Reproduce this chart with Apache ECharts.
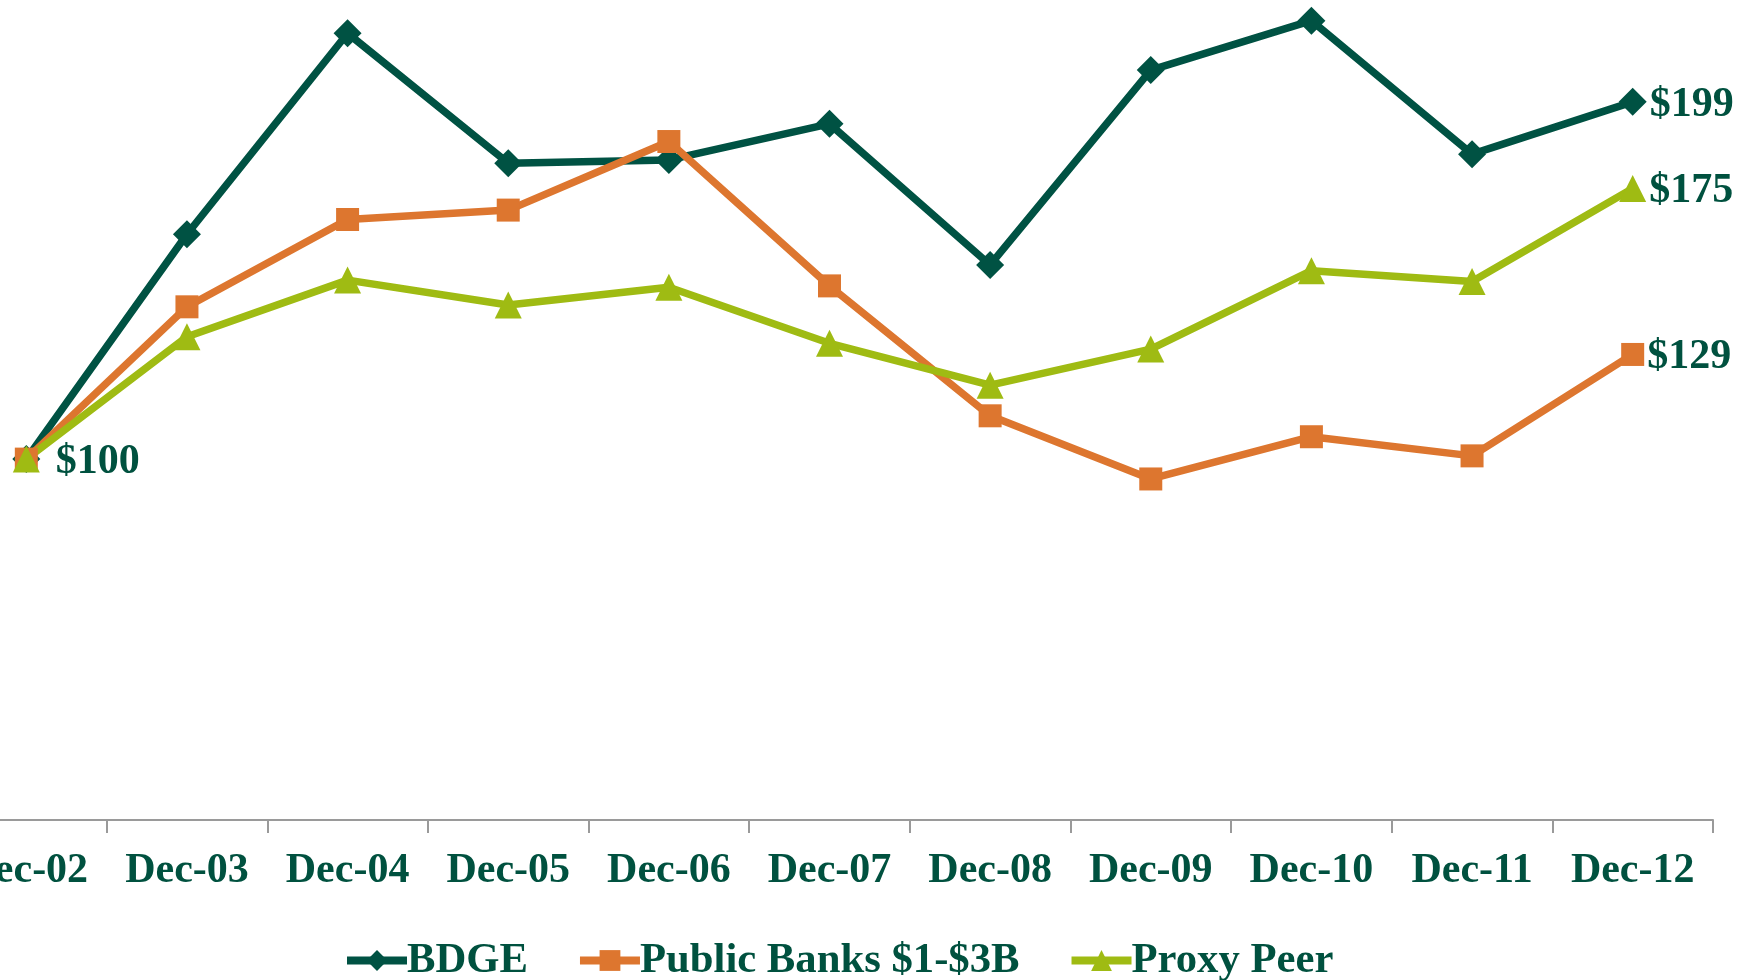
<!DOCTYPE html>
<html>
<head>
<meta charset="utf-8">
<title>Total Return Performance</title>
<script src="https://cdn.jsdelivr.net/npm/echarts@6/dist/echarts.min.js"></script>
<style>
  html, body { margin: 0; padding: 0; background: #ffffff; }
  #chart { width: 1752px; height: 980px; }
</style>
</head>
<body>
<div id="chart"></div>
<script>
// Year-end points, indexed to $100 at Dec-02
const categories = ['Dec-02', 'Dec-03', 'Dec-04', 'Dec-05', 'Dec-06', 'Dec-07',
                    'Dec-08', 'Dec-09', 'Dec-10', 'Dec-11', 'Dec-12'];
const bdge        = [100, 162.3, 218.0, 182.0, 182.9, 192.9, 153.8, 207.8, 221.5, 184.5, 199];
const publicBanks = [100, 142.2, 166.4, 169.0, 188.0, 148.0, 112.0,  94.5, 106.2, 100.9, 129];
const proxyPeer   = [100, 133.9, 149.6, 142.7, 147.6, 132.1, 120.5, 130.5, 152.2, 149.2, 175];
const seriesNames = ['BDGE', 'Public Banks $1-$3B', 'Proxy Peer'];

const TEXT_COLOR = '#00513f';
const FONT = "'Liberation Serif', 'Times New Roman', serif";
const LINE_WIDTH = 7.5;

// Value labels: shown on the final point of each line, plus the shared $100 start
function endLabel(offset) {
  return {
    show: true,
    position: 'right',
    distance: offset,
    offset: [0, 3],
    color: TEXT_COLOR,
    fontFamily: FONT,
    fontWeight: 'bold',
    fontSize: 42,
    formatter: p => '$' + Math.round(p.value)
  };
}

function withLabels(values, showFirst) {
  const last = values.length - 1;
  return values.map((v, i) => {
    if (i === last) return { value: v, label: endLabel(3) };
    if (i === 0 && showFirst) return { value: v, label: endLabel(16) };
    return v;
  });
}

const chart = echarts.init(document.getElementById('chart'));
chart.setOption({
  backgroundColor: '#ffffff',
  animation: false,
  grid: { left: -54, right: 39, top: 8, bottom: 160, outerBoundsMode: 'none' },
  legend: {
    left: 338,
    top: 934,
    itemWidth: 60,
    itemHeight: 26,
    itemGap: 48,
    lineStyle: { width: 8 },
    textStyle: {
      color: TEXT_COLOR,
      fontFamily: FONT,
      fontWeight: 'bold',
      fontSize: 42.7,
      padding: [0, 0, 0, -5]
    },
    data: seriesNames
  },
  xAxis: {
    type: 'category',
    data: categories,
    boundaryGap: true,
    axisLine: { show: true, lineStyle: { color: '#9a9a9a', width: 2 } },
    axisTick: { show: true, length: 13, lineStyle: { color: '#9a9a9a', width: 2 } },
    axisLabel: {
      color: TEXT_COLOR,
      fontFamily: FONT,
      fontWeight: 'bold',
      fontSize: 42,
      margin: 30,
      interval: 0
    }
  },
  yAxis: {
    type: 'value',
    min: 0,
    max: 225,
    show: false,
    splitLine: { show: false }
  },
  series: [
    {
      name: seriesNames[0],
      type: 'line',
      data: withLabels(bdge, false),
      symbol: 'diamond',
      symbolSize: 28,
      itemStyle: { color: '#005243' },
      lineStyle: { color: '#005243', width: LINE_WIDTH },
      label: { show: false }
    },
    {
      name: seriesNames[1],
      type: 'line',
      data: withLabels(publicBanks, false),
      symbol: 'rect',
      symbolSize: 23,
      itemStyle: { color: '#dd762f' },
      lineStyle: { color: '#dd762f', width: LINE_WIDTH },
      label: { show: false }
    },
    {
      name: seriesNames[2],
      type: 'line',
      data: withLabels(proxyPeer, true),
      symbol: 'triangle',
      symbolSize: 27,
      itemStyle: { color: '#9fbb13' },
      lineStyle: { color: '#9fbb13', width: LINE_WIDTH },
      label: { show: false }
    }
  ]
});
</script>
</body>
</html>
